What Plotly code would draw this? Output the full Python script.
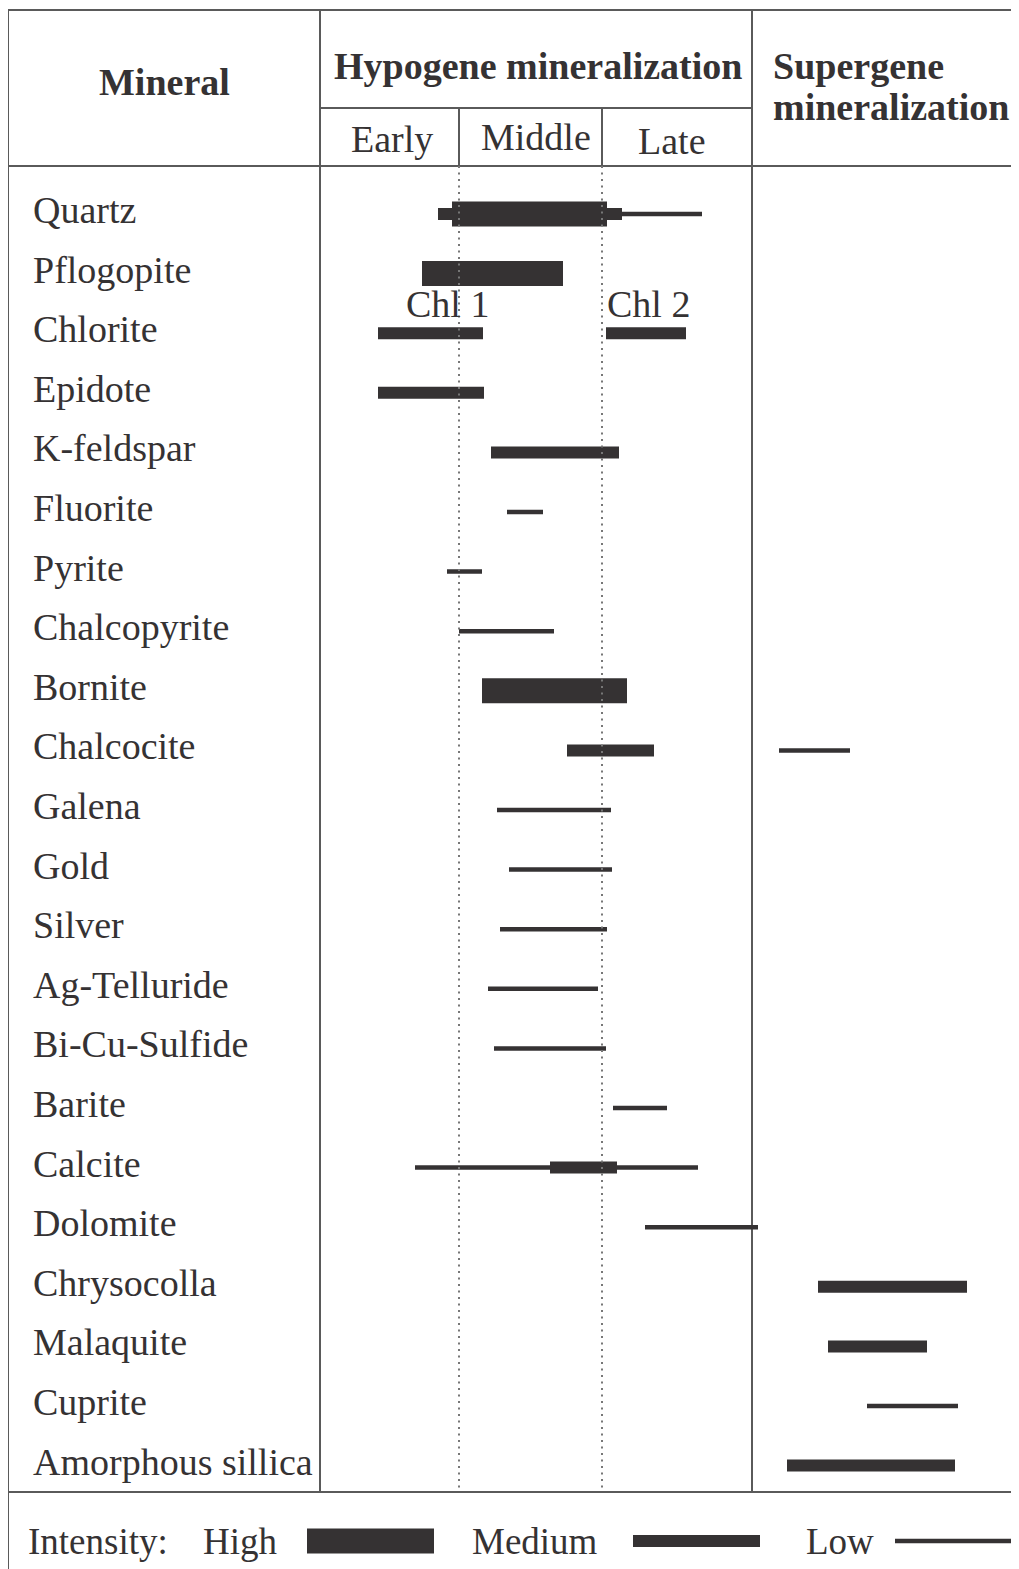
"""Paragenetic sequence chart (hypogene / supergene mineralization)."""

import plotly.graph_objects as go

minerals = [
    "Quartz", "Pflogopite", "Chlorite", "Epidote", "K-feldspar", "Fluorite",
    "Pyrite", "Chalcopyrite", "Bornite", "Chalcocite", "Galena", "Gold",
    "Silver", "Ag-Telluride", "Bi-Cu-Sulfide", "Barite", "Calcite",
    "Dolomite", "Chrysocolla", "Malaquite", "Cuprite", "Amorphous sillica",
]

# segments along the time axis (same units as the drawing width)
seg_mineral = [
    "Quartz", "Quartz", "Quartz", "Pflogopite", "Chlorite", "Chlorite",
    "Epidote", "K-feldspar", "Fluorite", "Pyrite", "Chalcopyrite", "Bornite",
    "Chalcocite", "Chalcocite", "Galena", "Gold", "Silver", "Ag-Telluride",
    "Bi-Cu-Sulfide", "Barite", "Calcite", "Calcite", "Dolomite",
    "Chrysocolla", "Malaquite", "Cuprite", "Amorphous sillica",
]
seg_start = [
    622, 438, 452, 422, 378, 606, 378, 491, 507, 447, 459, 482,
    567, 779, 497, 509, 500, 488, 494, 613, 415, 550, 645,
    818, 828, 867, 787,
]
seg_end = [
    702, 622, 607, 563, 483, 686, 484, 619, 543, 482, 554, 627,
    654, 850, 611, 612, 607, 598, 606, 667, 698, 617, 758,
    967, 927, 958, 955,
]
seg_level = [
    "Low", "Medium", "High", "High", "Medium", "Medium", "Medium", "Medium",
    "Low", "Low", "Low", "High", "Medium", "Low", "Low", "Low", "Low", "Low",
    "Low", "Low", "Low", "Medium", "Low", "Medium", "Medium", "Low", "Medium",
]

stages = ["Early", "Middle", "Late"]
stage_bounds = [320, 459, 602, 752]
chl_labels = ["Chl 1", "Chl 2"]
chl_x = [404, 605]

W, H = 1019, 1569
OFF = 8  # page body margin
INK = "#353233"
GRID = "#5a5a5a"
FONT = "Liberation Serif, Times New Roman, serif"
ROW0, ROW_STEP, BAR_DY = 210, 59.6, 4
thick = {"High": 25, "Medium": 12, "Low": 4.5}


def row_y(name):
    return ROW0 + ROW_STEP * minerals.index(name)


fig = go.Figure()

# low first so thicker bars sit on top
for level in ["Low", "Medium", "High"]:
    xs, ys = [], []
    for m, a, b, lv in zip(seg_mineral, seg_start, seg_end, seg_level):
        if lv != level:
            continue
        y = row_y(m) + BAR_DY
        xs += [a, b, None]
        ys += [y, y, None]
    fig.add_trace(go.Scatter(x=xs, y=ys, mode="lines", hoverinfo="skip",
                             line=dict(color=INK, width=thick[level])))

# stage boundaries (dotted)
for xb in stage_bounds[1:3]:
    fig.add_trace(go.Scatter(x=[xb, xb], y=[166, 1492], mode="lines",
                             hoverinfo="skip",
                             line=dict(color="#777", width=2, dash="2px,4.5px")))

# legend glyphs
legend_levels = ["High", "Medium", "Low"]
legend_x = [(307, 434), (633, 760), (895, 1019)]
for lv, (a, b) in zip(legend_levels, legend_x):
    fig.add_trace(go.Scatter(x=[a, b], y=[1541, 1541], mode="lines",
                             hoverinfo="skip",
                             line=dict(color=INK, width=thick[lv])))

# table frame
lw = dict(color=GRID, width=2)
frame = [
    (8, 10, W, 10), (8, 10, 8, H), (320, 10, 320, 1492), (752, 10, 752, 1492),
    (320, 108, 752, 108), (8, 166, W, 166), (8, 1492, W, 1492),
    (459, 108, 459, 166), (602, 108, 602, 166),
]
for x0, y0, x1, y1 in frame:
    fig.add_shape(type="line", x0=x0, y0=y0, x1=x1, y1=y1, line=lw, layer="below")


def text(x, y, s, size=38, bold=False, xanchor="left"):
    if bold:
        s = "<b>" + s + "</b>"
    fig.add_annotation(x=x, y=y, text=s, showarrow=False, xanchor=xanchor,
                       yanchor="middle", font=dict(family=FONT, size=size, color=INK))


for m in minerals:
    text(31, row_y(m), m, size=38)

text(164, 82, "Mineral", size=38, bold=True, xanchor="center")
text(538, 66, "Hypogene mineralization", size=38, bold=True, xanchor="center")
text(771, 66, "Supergene", size=38, bold=True)
text(771, 107, "mineralization", size=38, bold=True)
for s, xc, yc in zip(stages, [392, 536, 672], [139, 137, 141]):
    text(xc, yc, s, size=38, xanchor="center")
for s, x in zip(chl_labels, chl_x):
    text(x, 304, s, size=38)

text(26, 1541, "Intensity:", size=37)
text(201, 1541, "High", size=37)
text(470, 1541, "Medium", size=37)
text(804, 1541, "Low", size=37)

fig.update_layout(
    width=W - OFF, height=H - OFF, margin=dict(l=0, r=0, t=0, b=0),
    paper_bgcolor="white", plot_bgcolor="white", showlegend=False,
    xaxis=dict(range=[OFF, W], visible=False, fixedrange=True),
    yaxis=dict(range=[H, OFF], visible=False, fixedrange=True),
)

fig.write_html("out.html")
